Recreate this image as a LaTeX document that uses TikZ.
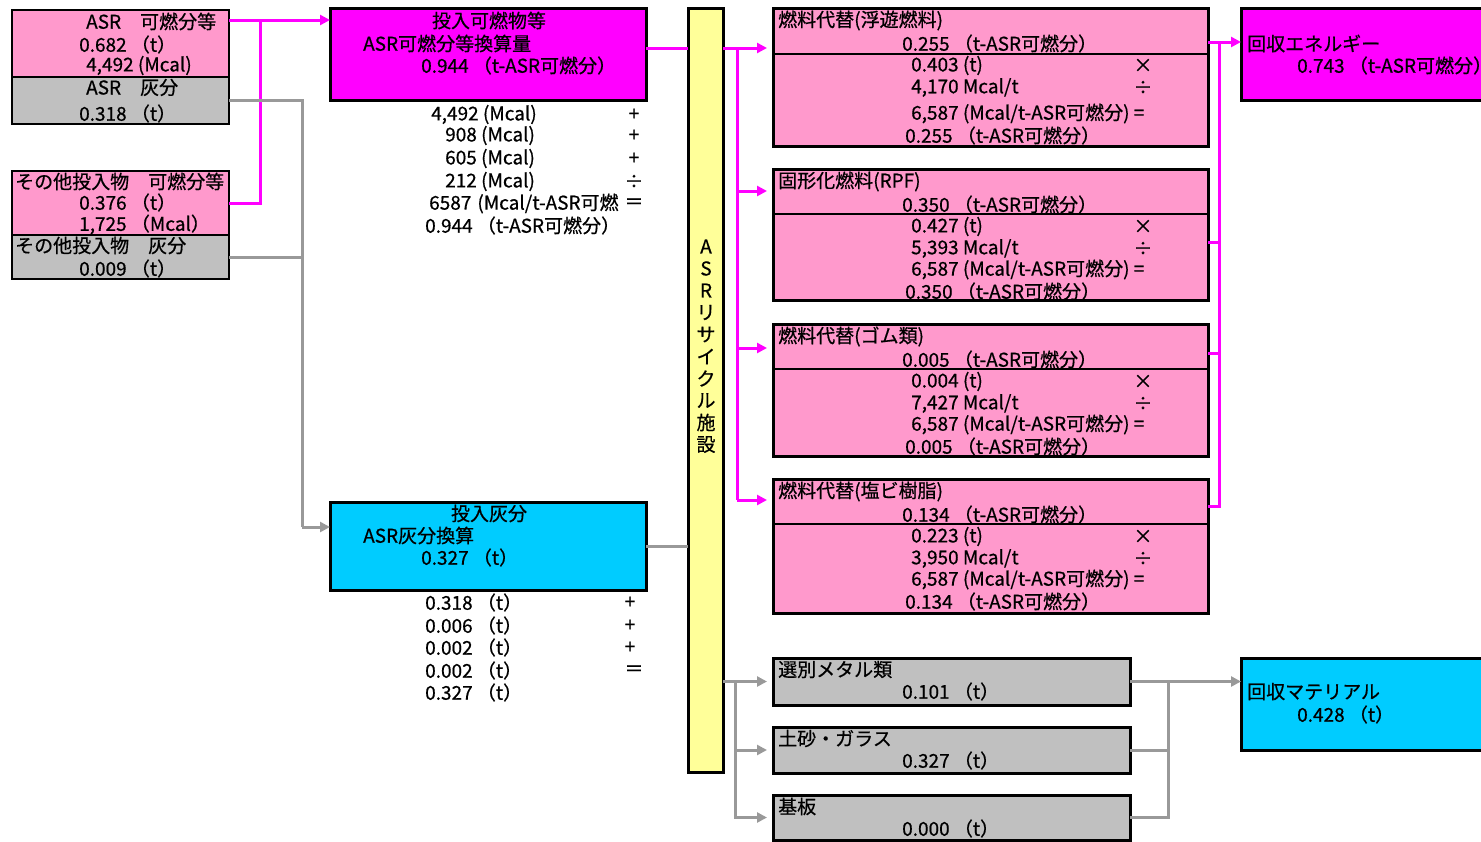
\documentclass[tikz,border=0pt]{standalone}
\usepackage{fontspec}
\setmainfont{Noto Sans CJK JP}[FakeBold=0.6]
\usetikzlibrary{arrows.meta}

\definecolor{pinkfill}{HTML}{FF99CC}
\definecolor{magfill}{HTML}{FF00FF}
\definecolor{grayfill}{HTML}{C0C0C0}
\definecolor{cyanfill}{HTML}{00CCFF}
\definecolor{yelfill}{HTML}{FFFF99}
\definecolor{grayink}{HTML}{999999}

\tikzset{
  lbl/.style={anchor=west, inner sep=0pt, yshift=-0.5pt},
  ctr/.style={inner sep=0pt, yshift=-0.5pt},
  box/.style n args={3}{draw=black, line width=3pt, fill=#1, anchor=north west,
    inner sep=0pt, outer sep=0pt, minimum width=#2, minimum height=#3},
  smallbox/.style n args={3}{box={#1}{#2}{#3}, line width=2pt},
  magline/.style={draw=magfill, line width=3pt},
  grayline/.style={draw=grayink, line width=3pt},
}

\begin{document}
\begin{tikzpicture}[x=1pt, y=-1pt,
    every node/.style={font=\fontsize{19}{21}\selectfont},
    >={Triangle[length=10pt,width=10pt]}]
    \useasboundingbox (0,0) rectangle (1481,841);
    \clip (0,0) rectangle (1481,841);

    % inputs on the left
    \node[smallbox={pinkfill}{217pt}{67pt}] (asrc) at (12,10) {};
    \node[smallbox={grayfill}{217pt}{47pt}] (asra) at (12,77) {};
    \node[smallbox={pinkfill}{217pt}{64pt}] (othc) at (12,171) {};
    \node[smallbox={grayfill}{217pt}{44pt}] (othash) at (12,235) {};
    \node[lbl] (asrc-t) at (86,21) {ASR　可燃分等};
    \node[lbl] (asrc-m) at (79,44) {0.682 （t）};
    \node[lbl] (asrc-h) at (86,65) {4,492 (Mcal)};
    \node[lbl] (asra-t) at (86,87) {ASR　灰分};
    \node[lbl] (asra-m) at (79,113) {0.318 （t）};
    \node[lbl] (othc-t) at (15,181) {その他投入物　可燃分等};
    \node[lbl] (othc-m) at (79,202) {0.376 （t）};
    \node[lbl] (othc-h) at (79,224) {1,725 （Mcal）};
    \node[lbl] (othash-t) at (15,245) {その他投入物　灰分};
    \node[lbl] (othash-m) at (79,268) {0.009 （t）};

    % converted totals
    \node[box={magfill}{316pt}{92pt}] (incomb) at (330,8) {};
    \node[ctr] (incomb-t) at (489,20) {投入可燃物等};
    \node[lbl] (incomb-s) at (363,43) {ASR可燃分等換算量};
    \node[lbl] (incomb-v) at (421,65) {0.944 （t-ASR可燃分）};
    \foreach \x/\y/\txt/\op [count=\i] in {431/114/{4,492 (Mcal)}/+, 445/135/{908 (Mcal)}/+,
        445/158/{605 (Mcal)}/+, 445/181/{212 (Mcal)}/÷, 429/203/{6587\hspace{6pt}(Mcal/t-ASR可燃}/＝}{
      \node[lbl] (cs\i) at (\x,\y) {\txt};
      \node[ctr] (co\i) at (634,\y) {\op};
    }
    \node[lbl] (cs6) at (425,225) {0.944 （t-ASR可燃分）};

    \node[box={cyanfill}{316pt}{88pt}] (inash) at (330,502) {};
    \node[ctr] (inash-t) at (489,513) {投入灰分};
    \node[lbl] (inash-s) at (363,535) {ASR灰分換算};
    \node[lbl] (inash-v) at (421,557) {0.327 （t）};
    \foreach \y/\txt [count=\i] in {602/0.318, 625/0.006, 647/0.002, 670/0.002, 692/0.327}
      \node[lbl] (as\i) at (425,\y) {\txt\ （t）};
    \foreach \y/\op [count=\i] in {602/+, 625/+, 647/+}
      \node[ctr] (ao\i) at (630,\y) {\op};
    \node[ctr] (ao4) at (634,670) {＝};

    % recycling plant
    \node[box={yelfill}{35pt}{764pt}] (plant) at (688,8) {};
    \foreach \c [count=\i] in {A,S,R,リ,サ,イ,ク,ル,施,設}
      \node[ctr] (pv\i) at (706,224+22*\i) {\c};

    % fuel outputs
    \foreach \nm/\ty/\bh/\dv/\gap/\ttl/\val/\mass/\heat in {
        fuel1/8/138/46/5/{燃料代替(浮遊燃料)}/0.255/0.403/{4,170},
        fuel2/169/131/45/0/{固形化燃料(RPF)}/0.350/0.427/{5,393},
        fuel3/324/132/45/0/{燃料代替(ゴム類)}/0.005/0.004/{7,427},
        fuel4/479/134/45/0/{燃料代替(塩ビ樹脂)}/0.134/0.223/{3,950}}{
      \node[box={pinkfill}{435pt}{\bh pt}] (\nm) at (773,\ty) {};
      \draw[line width=2pt] ([yshift=-\dv pt]\nm.north west) -- ([yshift=-\dv pt]\nm.north east);
      \node[lbl] (\nm-t) at (778,\ty+12) {\ttl};
      \node[lbl] (\nm-v) at (902,\ty+35) {\val\ （t-ASR可燃分）};
      \node[lbl] (\nm-a) at (911,\ty+57) {\mass\ (t)};
      \node[ctr] (\nm-ao) at (1143,\ty+57) {×};
      \node[lbl] (\nm-b) at (911,\ty+79) {\heat\ Mcal/t};
      \node[ctr] (\nm-bo) at (1143,\ty+79) {÷};
      \node[lbl] (\nm-c) at (911,\ty+100+\gap) {6,587 (Mcal/t-ASR可燃分) =};
      \node[lbl] (\nm-d) at (905,\ty+122+\gap) {\val\ （t-ASR可燃分）};
    }
    \node[box={magfill}{260pt}{92pt}] (energy) at (1241,8) {};
    \node[lbl] (energy-t) at (1247,43) {回収エネルギー};
    \node[lbl] (energy-v) at (1297,65) {0.743 （t-ASR可燃分）};

    % material outputs
    \foreach \nm/\ty/\bh/\ttl/\val in {metal/658/47/選別メタル類/0.101,
        soil/727/46/土砂・ガラス/0.327, board/795/45/基板/0.000}{
      \node[box={grayfill}{357pt}{\bh pt}] (\nm) at (773,\ty) {};
      \node[lbl] (\nm-t) at (778,\ty+11) {\ttl};
      \node[lbl] (\nm-v) at (902,\ty+33) {\val\ （t）};
    }
    \node[box={cyanfill}{260pt}{92pt}] (material) at (1241,658) {};
    \node[lbl] (material-t) at (1247,691) {回収マテリアル};
    \node[lbl] (material-v) at (1297,714) {0.428 （t）};

    % connectors: combustibles
    \coordinate (cj) at (260,20);
    \draw[magline,->] ([yshift=-10pt]asrc.north east) -- ([yshift=-12pt]incomb.north west);
    \draw[magline] ([yshift=-32pt]othc.north east) -| (cj);
    \draw[magline] ([yshift=6pt]incomb.east) -- ([yshift=6pt]incomb.east -| plant.west);
    \coordinate (mj) at (737,48);
    \coordinate (mk) at (737,500);
    \draw[magline] (mj) -- (mk);
    \draw[magline,->,shorten >=6pt] (plant.east |- mj) -- (mj -| fuel1.west);
    \foreach \nm/\yy in {fuel2/191, fuel3/348, fuel4/500}{
      \coordinate (\nm-in) at (737,\yy);
      \draw[magline,->,shorten >=6pt] (\nm-in) -- (\nm-in -| \nm.west);
    }
    \coordinate (rj) at (1219,42);
    \coordinate (rk) at (1219,506);
    \draw[magline,->] (rj -| fuel1.east) -- (rj -| energy.west);
    \draw[magline] (rj) -- (rk) -- (rk -| fuel4.east);
    \draw[magline] ([yshift=-8pt]fuel2.east) -- ([yshift=-8pt]fuel2.east -| rj);
    \draw[magline] ([yshift=37pt]fuel3.east) -- ([yshift=37pt]fuel3.east -| rj);

    % connectors: ash and materials
    \coordinate (aj) at (302,527);
    \draw[grayline] (asra.east) -| (aj);
    \draw[grayline] (othash.east) -| (aj);
    \draw[grayline,->] (aj) -- (aj -| inash.west);
    \draw[grayline] (inash.east) -- (inash.east -| plant.west);
    \coordinate (gj) at ([xshift=12pt]plant.east |- metal.west);
    \draw[grayline,->,shorten >=6pt] (plant.east |- metal.west) -- (metal.west);
    \draw[grayline,->,shorten >=6pt] (gj) |- (soil.west);
    \draw[grayline,->,shorten >=6pt] (gj) |- (board.west);
    \coordinate (hj) at ([xshift=38pt]metal.east);
    \draw[grayline,->] (metal.east) -- (metal.east -| material.west);
    \draw[grayline] (hj) |- (board.east);
    \draw[grayline] (soil.east) -- (soil.east -| hj);
\end{tikzpicture}
\end{document}
